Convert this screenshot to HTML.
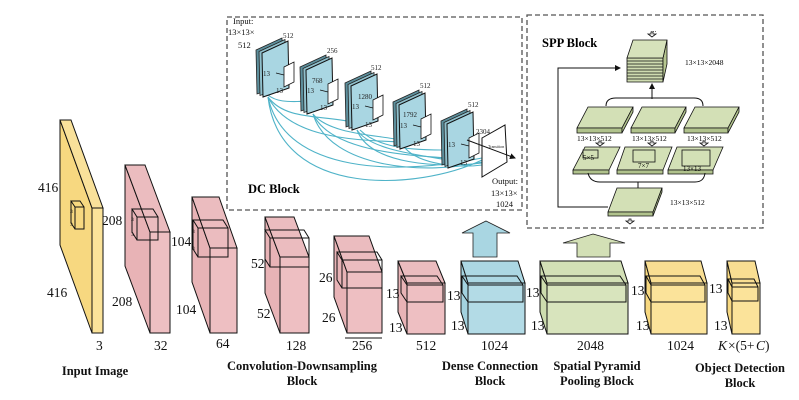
<!DOCTYPE html>
<html><head><meta charset="utf-8"><style>
html,body{margin:0;padding:0;background:#fff;}
svg{display:block;font-family:"Liberation Serif",serif;}
</style></head><body>
<svg width="799" height="400" viewBox="0 0 799 400" xmlns="http://www.w3.org/2000/svg">
<defs>
<marker id="ah" markerWidth="6" markerHeight="6" refX="5" refY="3" orient="auto"><path d="M0,0 L6,3 L0,6 z" fill="#111"/></marker>
<g id="stk">
 <polygon points="-6,-3 20,-15 21,32 -5,41" fill="#5d8f9c" stroke="#222" stroke-width="0.8"/>
 <polygon points="-3,-1.5 23,-13.5 24,33.5 -2,42.5" fill="#8fc0cc" stroke="#222" stroke-width="0.8"/>
 <polygon points="0,0 26,-12 27,35 1,44" fill="#a9d6e2" stroke="#111" stroke-width="1"/>
 <polygon points="22,14 32,9 32,29 22,34" fill="#fff" stroke="#111" stroke-width="0.8"/>
 <line x1="14" y1="20" x2="22" y2="22" stroke="#111" stroke-width="0.8"/>
</g>
</defs>

<!-- DC block -->
<rect x="227" y="17" width="295" height="193" fill="none" stroke="#555" stroke-width="1.3" stroke-dasharray="5,3"/>
<g fill="none" stroke="#4fb3c8" stroke-width="1.1">
<path d="M268,97 C280,200 420,190 482,160"/>
<path d="M268,97 C285,175 400,175 482,158"/>
<path d="M268,97 C290,140 360,140 400,142"/>
<path d="M268,97 C285,120 320,115 352,122"/>
<path d="M268,95 C280,105 300,100 307,102"/>
<path d="M313,114 C330,170 430,175 482,162"/>
<path d="M313,114 C330,150 400,155 448,158"/>
<path d="M313,114 C330,135 380,135 400,140"/>
<path d="M357,130 C370,165 440,168 482,163"/>
<path d="M357,130 C370,150 420,155 448,160"/>
<path d="M405,148 C420,165 460,168 482,165"/>
<path d="M360,130 C380,150 420,150 448,150"/>
</g>
<use href="#stk" x="262" y="53"/>
<use href="#stk" x="306" y="70"/>
<use href="#stk" x="351" y="86"/>
<use href="#stk" x="399" y="105"/>
<use href="#stk" x="447" y="124"/>
<polygon points="482,138 505,125 507,162 482,177" fill="#fff" stroke="#111" stroke-width="1"/>
<line x1="467" y1="140" x2="515" y2="158" stroke="#111" stroke-width="1" marker-end="url(#ah)"/>
<g font-size="7" fill="#222">
<text x="488" y="148" font-size="4">Transition</text>
<text x="283" y="38">512</text><text x="327" y="53">256</text><text x="371" y="70">512</text><text x="420" y="88">512</text><text x="468" y="107">512</text>
<text x="312" y="83">768</text><text x="358" y="99">1280</text><text x="403" y="117">1792</text><text x="476" y="134">2304</text>
<text x="263" y="76">13</text><text x="307" y="93">13</text><text x="352" y="109">13</text><text x="400" y="128">13</text><text x="448" y="147">13</text>
<text x="276" y="93">13</text><text x="320" y="110">13</text><text x="365" y="127">13</text><text x="413" y="146">13</text><text x="460" y="165">13</text>
</g>
<g font-size="8.5" fill="#111">
<text x="233" y="24">Input:</text><text x="228" y="35">13×13×</text><text x="238" y="48">512</text>
<text x="492" y="184">Output:</text><text x="491" y="196">13×13×</text><text x="496" y="207">1024</text>
</g>
<text x="248" y="193" font-size="12.5" font-weight="bold">DC Block</text>

<!-- SPP block -->
<rect x="527" y="15" width="236" height="213" fill="none" stroke="#555" stroke-width="1.3" stroke-dasharray="5,3"/>
<text x="542" y="47" font-size="12.5" font-weight="bold">SPP Block</text>
<g stroke="#111" stroke-width="0.8">
<polygon points="627,58 663,58 663,82 627,82" fill="#cfdcb0"/>
<polygon points="663,58 667,40 667,64 663,82" fill="#b6c690"/>
<polygon points="633,40 667,40 663,58 627,58" fill="#d6e2bb"/>
<path d="M627,61H663M627,64H663M627,67H663M627,70H663M627,73H663M627,76H663M627,79H663" fill="none"/>
</g>
<text x="685" y="65" font-size="7.5">13×13×2048</text>
<text x="651" y="32" font-size="7">...</text>
<path d="M652,99V84" stroke="#111" marker-end="url(#ah)"/>
<path d="M606,106 Q606,98 616,98 L694,98 Q703,98 703,106" fill="none" stroke="#111"/>
<g stroke="#111" stroke-width="0.8">
<polygon points="588,107 633,107 622,128 577,128" fill="#d3e0b6"/><polygon points="577,128 622,128 622,133 577,133" fill="#b0c28c"/><polygon points="622,128 633,107 633,112 622,133" fill="#b0c28c"/>
<polygon points="642,107 686,107 675,128 631,128" fill="#d3e0b6"/><polygon points="631,128 675,128 675,133 631,133" fill="#b0c28c"/><polygon points="675,128 686,107 686,112 675,133" fill="#b0c28c"/>
<polygon points="695,107 739,107 728,128 684,128" fill="#d3e0b6"/><polygon points="684,128 728,128 728,133 684,133" fill="#b0c28c"/><polygon points="728,128 739,107 739,112 728,133" fill="#b0c28c"/>
</g>
<g font-size="7.5"><text x="577" y="141">13×13×512</text><text x="632" y="141">13×13×512</text><text x="687" y="141">13×13×512</text></g>
<g stroke="#111" stroke-width="0.8">
<polygon points="585,147 620,147 609,170 573,170" fill="#d3e0b6"/><polygon points="573,170 609,170 609,174 573,174" fill="#b0c28c"/>
<polygon points="625,147 672,147 663,170 617,170" fill="#d3e0b6"/><polygon points="617,170 663,170 663,174 617,174" fill="#b0c28c"/>
<polygon points="677,147 723,147 713,170 668,170" fill="#d3e0b6"/><polygon points="668,170 713,170 713,174 668,174" fill="#b0c28c"/>
<rect x="583" y="150" width="15" height="8" fill="none"/><rect x="633" y="150" width="22" height="12" fill="none"/><rect x="682" y="150" width="28" height="16" fill="none"/>
</g>
<g font-size="7"><text x="583" y="160">5×5</text><text x="638" y="168">7×7</text><text x="683" y="171">13×13</text></g>
<path d="M588,173 Q590,182 600,182 L695,182 Q704,182 705,173 M638,182V188" fill="none" stroke="#111"/>
<g stroke="#111" stroke-width="0.8">
<polygon points="617,188 662,188 653,212 608,212" fill="#d3e0b6"/><polygon points="608,212 653,212 653,216 608,216" fill="#b0c28c"/><polygon points="653,212 662,188 662,192 653,216" fill="#b0c28c"/>
</g>
<text x="670" y="205" font-size="7.5">13×13×512</text>
<path d="M608,207H558V68H620" fill="none" stroke="#111" marker-end="url(#ah)"/>
<g fill="#fff" stroke="#111" stroke-width="0.8">
<path d="M652,37 l-4,-3 l3,0 l0,-2 l2,0 l0,2 l3,0z"/>
<path d="M630,224 l-4,-3 l3,0 l0,-2 l2,0 l0,2 l3,0z"/>
<path d="M600,146 l-4,-3 l3,0 l0,-2 l2,0 l0,2 l3,0z"/>
<path d="M652,146 l-4,-3 l3,0 l0,-2 l2,0 l0,2 l3,0z"/>
<path d="M704,146 l-4,-3 l3,0 l0,-2 l2,0 l0,2 l3,0z"/>
</g>

<!-- big arrows -->
<polygon points="486,221 510,233 497,233 497,257 473,257 473,233 462,233" fill="#a9d6e2" stroke="#222" stroke-width="0.8"/>
<polygon points="593,234 625,243 610,243 610,257 577,257 577,243 563,243" fill="#d3e0b6" stroke="#222" stroke-width="0.8"/>

<!-- main boxes -->
<g stroke="#111" stroke-width="1">
<polygon points="60,120 92,208 92,333 60,245" fill="#f7d880"/><polygon points="60,120 71,120 103,208 92,208" fill="#f9e19a"/><rect x="92" y="208" width="11" height="125" fill="#fbe39a"/>
<polygon points="75,207 84,207 84,229 75,229" fill="none"/><path d="M75,207 l-4,-6 h9 l4,6 M71,201 v22 l4,6" fill="none"/>

<polygon points="125,165 150,232 150,333 125,266" fill="#e8b3b6"/><polygon points="125,165 145,165 170,232 150,232" fill="#ebbcbf"/><rect x="150" y="232" width="20" height="101" fill="#eebfc2"/>
<path d="M137,217h21v23h-21z M137,217 l-5,-8 h21 l5,8 M132,209 v23 l5,8" fill="none"/>

<polygon points="192,197 210,248 210,333 192,282" fill="#e8b3b6"/><polygon points="192,197 219,197 237,248 210,248" fill="#ebbcbf"/><rect x="210" y="248" width="27" height="85" fill="#eebfc2"/>
<path d="M198,228h30v29h-30z M198,228 l-5,-8 h30 l5,8 M193,220 v29 l5,8" fill="none"/>

<polygon points="265,217 280,257 280,333 265,293" fill="#e8b3b6"/><polygon points="265,217 294,217 309,257 280,257" fill="#ebbcbf"/><rect x="280" y="257" width="29" height="76" fill="#eebfc2"/>
<path d="M270,238h39v29h-39z M270,238 l-5,-8 h39 l5,8 M265,230 v29 l5,8" fill="none"/>

<polygon points="334,236 347,272 347,333 334,297" fill="#e8b3b6"/><polygon points="334,236 369,236 382,272 347,272" fill="#ebbcbf"/><rect x="347" y="272" width="35" height="61" fill="#eebfc2"/>
<path d="M342,260h40v28h-40z M342,260 l-5,-8 h40 l5,8 M337,252 v28 l5,8" fill="none"/>

<polygon points="398,261 407,283 407,334 398,312" fill="#e8b3b6"/><polygon points="398,261 436,261 445,283 407,283" fill="#ebbcbf"/><rect x="407" y="283" width="38" height="51" fill="#eebfc2"/>
<path d="M407,285h36v17h-36z M407,285 l-6,-9 h36 l6,9 M401,276 v17 l6,9" fill="none"/>

<polygon points="461,261 468,283 468,334 461,312" fill="#a3d2df"/><polygon points="461,261 518,261 525,283 468,283" fill="#acd7e3"/><rect x="468" y="283" width="57" height="51" fill="#b3dbe6"/>
<path d="M468,285h55v17h-55z M468,285 l-6,-9 h55 l6,9 M462,276 v17 l6,9" fill="none"/>

<polygon points="540,261 547,283 547,334 540,312" fill="#cddcae"/><polygon points="540,261 621,261 628,283 547,283" fill="#d3e0b6"/><rect x="547" y="283" width="81" height="51" fill="#d8e4bd"/>
<path d="M547,285h79v17h-79z M547,285 l-6,-9 h79 l6,9 M541,276 v17 l6,9" fill="none"/>

<polygon points="645,261 651,283 651,334 645,312" fill="#f7d880"/><polygon points="645,261 701,261 707,283 651,283" fill="#f9de92"/><rect x="651" y="283" width="56" height="51" fill="#fbe39a"/>
<path d="M651,285h54v17h-54z M651,285 l-5,-9 h54 l5,9 M646,276 v17 l5,9" fill="none"/>

<polygon points="727,261 732,283 732,334 727,312" fill="#f7d880"/><polygon points="727,261 755,261 760,283 732,283" fill="#f9de92"/><rect x="732" y="283" width="28" height="51" fill="#fbe39a"/>
<path d="M732,287h26v14h-26z M732,287 l-4,-8 h26 l4,8 M728,279 v14 l4,8" fill="none"/>
</g>

<!-- numbers -->
<g font-size="13.5" fill="#111">
<text x="38" y="192">416</text><text x="47" y="297">416</text><text x="96" y="350">3</text>
<text x="102" y="225">208</text><text x="112" y="306">208</text><text x="154" y="350">32</text>
<text x="171" y="246">104</text><text x="176" y="314">104</text><text x="216" y="348">64</text>
<text x="251" y="268">52</text><text x="257" y="318">52</text><text x="286" y="350">128</text>
<text x="319" y="282">26</text><text x="322" y="322">26</text><text x="352" y="350">256</text>
<text x="386" y="298">13</text><text x="389" y="332">13</text><text x="416" y="350">512</text>
<text x="447" y="300">13</text><text x="451" y="330">13</text><text x="481" y="350">1024</text>
<text x="526" y="297">13</text><text x="531" y="330">13</text><text x="577" y="350">2048</text>
<text x="631" y="295">13</text><text x="636" y="330">13</text><text x="667" y="350">1024</text>
<text x="709" y="293">13</text><text x="714" y="330">13</text>
<text x="718" y="350" font-style="italic">K</text><text x="728" y="350">×(5+</text><text x="756" y="350" font-style="italic">C</text><text x="765" y="350">)</text>
</g>
<line x1="345" y1="338" x2="382" y2="338" stroke="#111"/>
<g font-size="5.5" fill="#111"><text x="70" y="213">3</text><text x="70" y="226">3</text><text x="131" y="221">3</text><text x="131" y="236">3</text><text x="192" y="233">3</text><text x="192" y="250">3</text></g>

<!-- titles -->
<g font-size="12.5" font-weight="bold" fill="#111" text-anchor="middle">
<text x="95" y="375">Input Image</text>
<text x="302" y="370">Convolution-Downsampling</text><text x="302" y="385">Block</text>
<text x="490" y="370">Dense Connection</text><text x="490" y="385">Block</text>
<text x="597" y="370">Spatial Pyramid</text><text x="597" y="385">Pooling Block</text>
<text x="740" y="372">Object Detection</text><text x="740" y="387">Block</text>
</g>
</svg>
</body></html>
